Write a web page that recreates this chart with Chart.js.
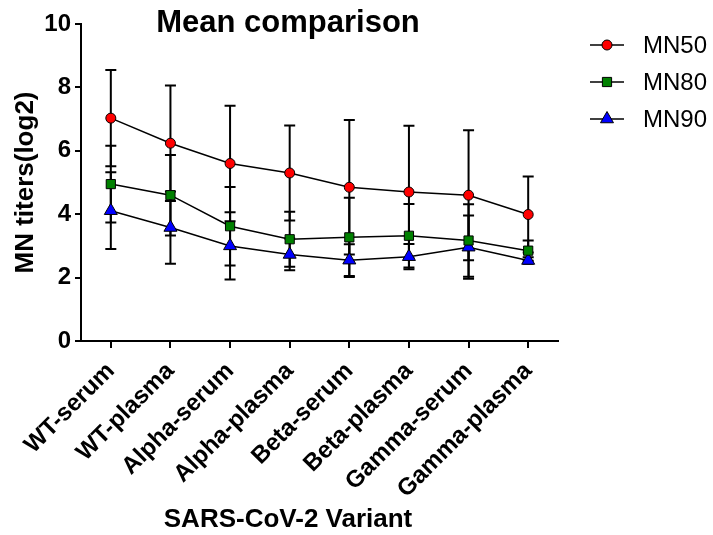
<!DOCTYPE html>
<html>
<head>
<meta charset="utf-8">
<title>Mean comparison</title>
<script src="https://cdn.jsdelivr.net/npm/chart.js@4.4.1/dist/chart.umd.min.js"></script>
<style>
  html, body { margin: 0; padding: 0; background: #fff; }
  #wrap { width: 713px; height: 535px; }
</style>
</head>
<body>
<div id="wrap"><canvas id="meanChart" width="713" height="535"></canvas></div>
<script>
// Categories and values (log2 MN titers)
const variants = ['WT-serum', 'WT-plasma', 'Alpha-serum', 'Alpha-plasma', 'Beta-serum', 'Beta-plasma', 'Gamma-serum', 'Gamma-plasma'];

const mn50Mean = [7.03, 6.24, 5.6, 5.3, 4.85, 4.7, 4.6, 3.99];
const mn50Sd   = [1.52, 1.82, 1.82, 1.5, 2.12, 2.09, 2.05, 1.2];

const mn80Mean = [4.95, 4.6, 3.62, 3.21, 3.27, 3.32, 3.17, 2.85];
const mn80Sd   = [1.21, 1.27, 1.24, 0.87, 1.25, 1.0, 1.14, 0.32];

const mn90Mean = [4.11, 3.58, 3.0, 2.73, 2.55, 2.66, 2.96, 2.54];
const mn90Sd   = [1.21, 1.14, 1.06, 0.5, 0.5, 0.4, 1.0, 0.1];

const yTicks = [0, 2, 4, 6, 8, 10];

const chartTitle = 'Mean comparison';
const xTitle = 'SARS-CoV-2 Variant';
const yTitle = 'MN titers(log2)';

const FONT = '"Liberation Sans", Arial, sans-serif';
Chart.defaults.font.family = FONT;
Chart.defaults.color = '#000';

// Error bars (mean +/- SD) drawn under the lines and markers
const errorBars = {
    id: 'errorBars',
    beforeDatasetsDraw(chart) {
        const ctx = chart.ctx;
        const yScale = chart.scales.y;
        ctx.save();
        ctx.strokeStyle = '#000';
        ctx.lineWidth = 2;
        chart.data.datasets.forEach((ds, i) => {
            const meta = chart.getDatasetMeta(i);
            meta.data.forEach((pt, j) => {
                const m = ds.data[j];
                const sd = ds.sd[j];
                const top = yScale.getPixelForValue(m + sd);
                const bot = yScale.getPixelForValue(m - sd);
                const half = 5.5;
                ctx.beginPath();
                ctx.moveTo(pt.x, top);
                ctx.lineTo(pt.x, bot);
                ctx.moveTo(pt.x - half, top);
                ctx.lineTo(pt.x + half, top);
                ctx.moveTo(pt.x - half, bot);
                ctx.lineTo(pt.x + half, bot);
                ctx.stroke();
            });
        });
        ctx.restore();
    }
};

// Legend on the right: short line with the series marker, then the label
const sideLegend = {
    id: 'sideLegend',
    afterDraw(chart) {
        const ctx = chart.ctx;
        const area = chart.chartArea;
        const x0 = area.right + 32;
        ctx.save();
        chart.data.datasets.forEach((ds, i) => {
            const y = 45 + i * 37;
            ctx.strokeStyle = '#000';
            ctx.lineWidth = 1.5;
            ctx.beginPath();
            ctx.moveTo(x0, y);
            ctx.lineTo(x0 + 34, y);
            ctx.stroke();
            ctx.fillStyle = ds.pointBackgroundColor;
            ctx.lineWidth = ds.pointBorderWidth;
            Chart.helpers.drawPoint(ctx, {
                pointStyle: ds.pointStyle,
                radius: ds.pointRadius,
                rotation: 0,
                borderWidth: ds.pointBorderWidth
            }, x0 + 17, y);
            ctx.fillStyle = '#000';
            ctx.font = '24px ' + FONT;
            ctx.textBaseline = 'middle';
            ctx.textAlign = 'left';
            ctx.fillText(ds.label, x0 + 53, y + 1);
        });
        ctx.restore();
    }
};

// Main title and x axis title, placed like the original figure
const figureTitles = {
    id: 'figureTitles',
    afterDraw(chart) {
        const ctx = chart.ctx;
        const area = chart.chartArea;
        const cx = area.left + (area.right - area.left) * 0.434;
        ctx.save();
        ctx.fillStyle = '#000';
        ctx.textAlign = 'center';
        ctx.textBaseline = 'alphabetic';
        ctx.font = 'bold 31px ' + FONT;
        ctx.fillText(chartTitle, cx, 32);
        ctx.font = 'bold 26px ' + FONT;
        ctx.fillText(xTitle, cx, 527);
        ctx.restore();
    }
};

function series(label, means, sds, color, style, radius) {
    return {
        label: label,
        data: means,
        sd: sds,
        borderColor: '#000',
        borderWidth: 1.5,
        pointBackgroundColor: color,
        pointBorderColor: '#000',
        pointBorderWidth: 1,
        pointStyle: style,
        pointRadius: radius,
        pointHoverRadius: radius,
        tension: 0,
        fill: false
    };
}

new Chart(document.getElementById('meanChart'), {
    type: 'line',
    data: {
        labels: variants,
        datasets: [
            series('MN50', mn50Mean, mn50Sd, '#ff0000', 'circle', 5),
            series('MN80', mn80Mean, mn80Sd, '#008000', 'rect', 6.5),
            series('MN90', mn90Mean, mn90Sd, '#0000ff', 'triangle', 7.5)
        ]
    },
    options: {
        responsive: false,
        animation: false,
        devicePixelRatio: 1,
        layout: { padding: { left: 0, right: 155, top: 24, bottom: 0 } },
        plugins: {
            legend: { display: false },
            title: { display: false },
            tooltip: { enabled: false }
        },
        scales: {
            x: {
                type: 'category',
                offset: true,
                grid: { drawOnChartArea: false, drawTicks: true, tickLength: 7, color: '#000', lineWidth: 2 },
                border: { color: '#000', width: 2 },
                ticks: {
                    font: { size: 24, weight: 'bold' },
                    color: '#000',
                    minRotation: 45,
                    maxRotation: 45,
                    padding: 9,
                    autoSkip: false
                },
                afterFit(scale) { scale.height = 194; }
            },
            y: {
                min: 0,
                max: 10,
                afterBuildTicks(scale) { scale.ticks = yTicks.map(v => ({ value: v })); },
                grid: { drawOnChartArea: false, drawTicks: true, tickLength: 6, color: '#000', lineWidth: 2 },
                border: { color: '#000', width: 2 },
                ticks: {
                    font: { size: 24, weight: 'bold' },
                    color: '#000',
                    padding: 4
                },
                title: {
                    display: true,
                    text: yTitle,
                    font: { size: 26, weight: 'bold' },
                    color: '#000',
                    padding: { top: 10, bottom: 0 }
                },
                afterFit(scale) { scale.width = 81; }
            }
        }
    },
    plugins: [errorBars, sideLegend, figureTitles]
});
</script>
</body>
</html>
